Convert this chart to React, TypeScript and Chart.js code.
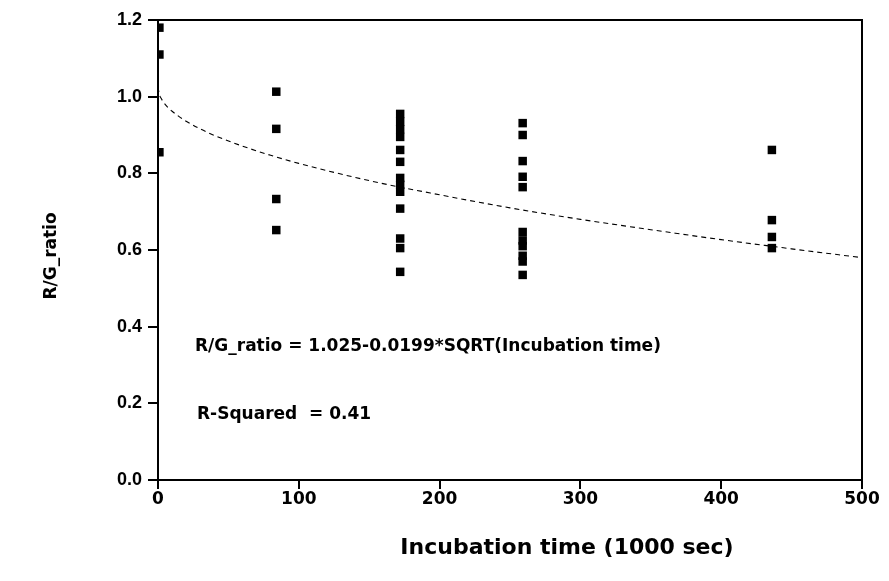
import React, { useEffect, useRef } from "react";
import { Chart, registerables } from "chart.js";

Chart.register(...registerables);

const timeGroups = [1, 84, 172, 259, 436];
const ratioAt0 = [1.18, 1.11, 0.855];
const ratioAt84 = [1.013, 0.916, 0.733, 0.652];
const ratioAt172 = [0.955, 0.935, 0.915, 0.895, 0.861, 0.83, 0.788, 0.77, 0.752, 0.708, 0.63, 0.605, 0.543];
const ratioAt259 = [0.931, 0.9, 0.832, 0.791, 0.764, 0.647, 0.625, 0.61, 0.585, 0.57, 0.535];
const ratioAt436 = [0.861, 0.678, 0.634, 0.605];

const fitTimes = [0, 1, 2, 4, 7, 10, 15, 20, 30, 40, 60, 80, 100, 150, 200, 250, 300, 350, 400, 450, 500];
const fitRatios = [1.025, 1.005, 0.997, 0.985, 0.972, 0.962, 0.948, 0.936, 0.916, 0.899, 0.871, 0.847, 0.826, 0.781, 0.744, 0.710, 0.680, 0.653, 0.627, 0.603, 0.580];

const xTicks = [0, 100, 200, 300, 400, 500];
const yTicks = [0, 0.2, 0.4, 0.6, 0.8, 1.0, 1.2];

const xTitle = "Incubation time (1000 sec)";
const yTitle = "R/G_ratio";
const equationText = "R/G_ratio = 1.025-0.0199*SQRT(Incubation time)";
const rSquaredText = "R-Squared  = 0.41";

const FONT = "'Liberation Sans', Arial, sans-serif";
const HEAVY = "'DejaVu Sans', sans-serif";

export default function App() {
  const ref = useRef<HTMLCanvasElement | null>(null);

  useEffect(() => {
    document.body.style.margin = "0";
    const groups = [ratioAt0, ratioAt84, ratioAt172, ratioAt259, ratioAt436];
    const scatter: { x: number; y: number }[] = [];
    groups.forEach((g, i) => g.forEach((v) => scatter.push({ x: timeGroups[i], y: v })));
    const fit = fitTimes.map((t, i) => ({ x: t, y: fitRatios[i] }));

    const textPlugin = {
      id: "texts",
      afterDraw(chart: any) {
        const ctx = chart.ctx;
        const a = chart.chartArea;
        ctx.save();
        ctx.strokeStyle = "#000";
        ctx.lineWidth = 2;
        ctx.strokeRect(a.left, a.top, a.right - a.left, a.bottom - a.top);
        ctx.fillStyle = "#000";
        ctx.font = `bold 22px ${HEAVY}`;
        ctx.textAlign = "center";
        ctx.textBaseline = "middle";
        ctx.fillText(xTitle, 567, 548);
        ctx.save();
        ctx.translate(52, 256);
        ctx.rotate(-Math.PI / 2);
        ctx.font = `bold 17px ${HEAVY}`;
        ctx.fillText(yTitle, 0, 0);
        ctx.restore();
        ctx.textAlign = "left";
        ctx.font = `bold 17px ${HEAVY}`;
        ctx.fillText(equationText, 195, 347);
        ctx.fillText(rSquaredText, 197, 415);
        ctx.restore();
      },
    };

    const chart = new Chart(ref.current as HTMLCanvasElement, {
      type: "scatter",
      data: {
        datasets: [
          {
            type: "line",
            data: fit,
            borderColor: "#000",
            borderWidth: 1.1,
            borderDash: [5, 4],
            pointRadius: 0,
            cubicInterpolationMode: "monotone",
            fill: false,
          } as any,
          {
            data: scatter,
            backgroundColor: "#000",
            borderColor: "#000",
            pointStyle: "rect",
            pointRadius: 6,
            borderWidth: 0,
          },
        ],
      },
      options: {
        animation: false,
        responsive: false,
        layout: { padding: { left: 0, right: 27, top: 20, bottom: 0 } },
        plugins: { legend: { display: false }, tooltip: { enabled: false } },
        scales: {
          x: {
            type: "linear",
            min: 0,
            max: 500,
            afterFit: (s: any) => { s.height = 101; },
            afterBuildTicks: (s: any) => { s.ticks = xTicks.map((v) => ({ value: v })); },
            grid: { drawOnChartArea: false, drawTicks: true, tickLength: 9, color: "#000", lineWidth: 2 },
            border: { display: true, color: "#000", width: 2 },
            ticks: { color: "#000", font: { family: HEAVY, size: 17, weight: "bold" }, padding: 0, maxRotation: 0 },
          },
          y: {
            type: "linear",
            min: 0,
            max: 1.2,
            afterFit: (s: any) => { s.width = 158; },
            afterBuildTicks: (s: any) => { s.ticks = yTicks.map((v) => ({ value: v })); },
            grid: { drawOnChartArea: false, drawTicks: true, tickLength: 10, color: "#000", lineWidth: 2 },
            border: { display: true, color: "#000", width: 2 },
            ticks: {
              color: "#000",
              font: { family: FONT, size: 18, weight: "bold" },
              padding: 6,
              callback: (v: any) => Number(v).toFixed(1),
            },
          },
        },
      },
      plugins: [textPlugin],
    });
    return () => chart.destroy();
  }, []);

  return (
    <div style={{ width: 889, height: 581, background: "#fff" }}>
      <canvas ref={ref} width={889} height={581} style={{ display: "block" }} />
    </div>
  );
}
